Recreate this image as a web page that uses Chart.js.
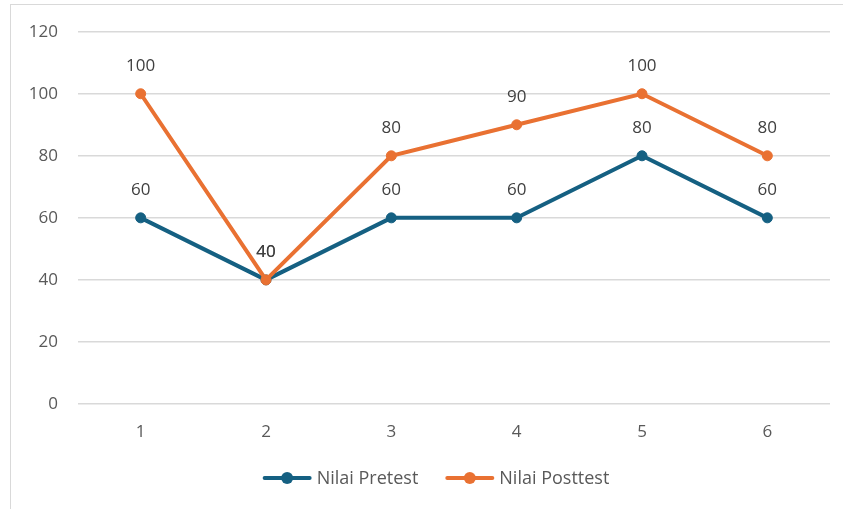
<!DOCTYPE html>
<html>
<head>
<meta charset="utf-8">
<script src="https://cdn.jsdelivr.net/npm/chart.js"></script>
<style>
  html, body { margin: 0; padding: 0; background: #fff; overflow: hidden; }
  #frame {
    position: absolute; left: 10px; top: 4px;
    width: 833px; height: 505px;
    border: 1px solid #d9d9d9;
  }
  #lineChart { display: block; }
</style>
</head>
<body>
<div id="frame"><canvas id="lineChart" width="832" height="504"></canvas></div>
<script>
// Chart data
const categories = ['1', '2', '3', '4', '5', '6'];
const seriesNames = ['Nilai Pretest', 'Nilai Posttest'];
const pretestValues = [60, 40, 60, 60, 80, 60];
const posttestValues = [100, 40, 80, 90, 100, 80];
const yTicks = [0, 20, 40, 60, 80, 100, 120];

const FONT = '"Open Sans", "Liberation Sans", sans-serif';
const BLUE = '#156082';
const ORANGE = '#E97132';

// Value labels above each point
const valueLabels = {
    id: 'valueLabels',
    afterDatasetsDraw(chart) {
        const ctx = chart.ctx;
        ctx.save();
        ctx.font = '17px ' + FONT;
        ctx.fillStyle = '#404040';
        ctx.textAlign = 'center';
        ctx.textBaseline = 'middle';
        chart.data.datasets.forEach((ds, i) => {
            const meta = chart.getDatasetMeta(i);
            meta.data.forEach((pt, j) => {
                ctx.fillText(String(ds.data[j]), pt.x, pt.y - 28);
            });
        });
        ctx.restore();
    }
};

// Excel-style legend: line with marker, then text
const bottomLegend = {
    id: 'bottomLegend',
    afterDraw(chart) {
        const ctx = chart.ctx;
        ctx.save();
        ctx.font = '18px ' + FONT;
        const lineW = 49, gapText = 5, gapItem = 27;
        const items = chart.data.datasets.map(ds => ({
            label: ds.label, color: ds.borderColor,
            w: lineW + gapText + ctx.measureText(ds.label).width
        }));
        const total = items.reduce((s, it) => s + it.w, 0) + gapItem * (items.length - 1);
        let x = chart.width / 2 - total / 2 + 9;
        const y = 473;
        items.forEach(it => {
            ctx.strokeStyle = it.color;
            ctx.lineWidth = 4;
            ctx.lineCap = 'round';
            ctx.beginPath();
            ctx.moveTo(x + 2, y);
            ctx.lineTo(x + lineW - 2, y);
            ctx.stroke();
            ctx.fillStyle = it.color;
            ctx.beginPath();
            ctx.arc(x + lineW / 2, y, 6, 0, Math.PI * 2);
            ctx.fill();
            ctx.fillStyle = '#595959';
            ctx.textAlign = 'left';
            ctx.textBaseline = 'middle';
            ctx.fillText(it.label, x + lineW + gapText, y + 1);
            x += it.w + gapItem;
        });
        ctx.restore();
    }
};

function initChart() {
    const ctx = document.getElementById('lineChart').getContext('2d');
    return new Chart(ctx, {
        type: 'line',
        data: {
            labels: categories,
            datasets: [{
                label: seriesNames[0],
                data: pretestValues,
                borderColor: BLUE,
                backgroundColor: BLUE,
                borderWidth: 4,
                pointRadius: 5,
                pointBorderWidth: 1,
                pointBackgroundColor: BLUE,
                pointBorderColor: BLUE,
                tension: 0,
                order: 1
            }, {
                label: seriesNames[1],
                data: posttestValues,
                borderColor: ORANGE,
                backgroundColor: ORANGE,
                borderWidth: 4,
                pointRadius: 5,
                pointBorderWidth: 1,
                pointBackgroundColor: ORANGE,
                pointBorderColor: ORANGE,
                tension: 0,
                order: 0
            }]
        },
        options: {
            responsive: false,
            animation: false,
            layout: { padding: { left: 0, right: 13, top: 26.7, bottom: 0 } },
            scales: {
                x: {
                    offset: true,
                    grid: { display: false, drawTicks: false },
                    border: { display: false },
                    ticks: { color: '#595959', font: { family: FONT, size: 17 }, padding: 18 },
                    afterFit: scale => {
                        scale.height = 105;
                        scale.paddingLeft = 0;
                        scale.paddingRight = 0;
                    }
                },
                y: {
                    min: 0,
                    max: 120,
                    grid: { color: '#d9d9d9', lineWidth: 1.5, drawTicks: false },
                    border: { display: false },
                    afterBuildTicks: scale => { scale.ticks = yTicks.map(v => ({ value: v })); },
                    ticks: { color: '#595959', font: { family: FONT, size: 17 }, padding: 20 },
                    afterFit: scale => {
                        scale.width = 67;
                        scale.paddingTop = 0;
                        scale.paddingBottom = 0;
                    }
                }
            },
            plugins: {
                legend: { display: false },
                tooltip: { enabled: false }
            }
        },
        plugins: [valueLabels, bottomLegend]
    });
}

document.addEventListener('DOMContentLoaded', initChart);
</script>
</body>
</html>
